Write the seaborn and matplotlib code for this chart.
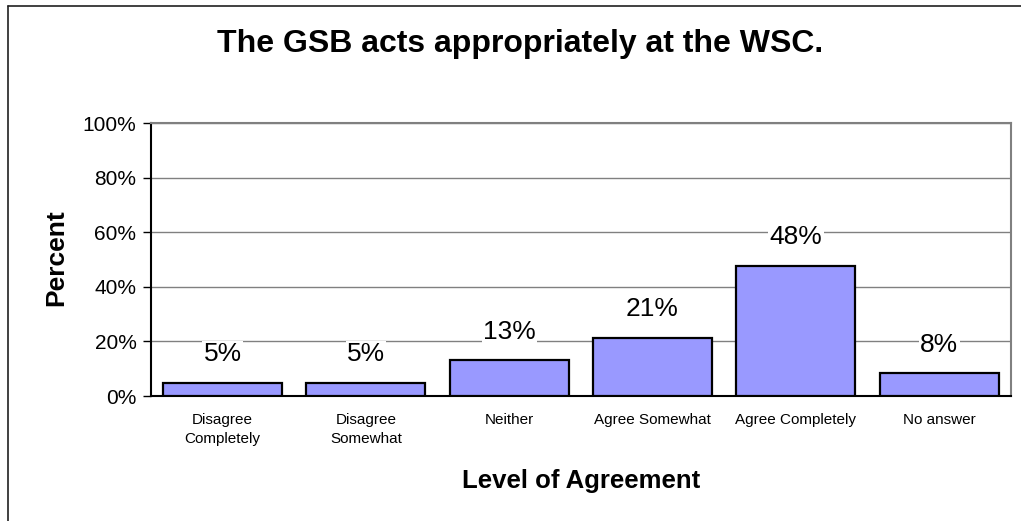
import matplotlib
matplotlib.use("Agg")
import matplotlib.pyplot as plt
from matplotlib.lines import Line2D
import seaborn as sns

# data
categories = ["Disagree\nCompletely", "Disagree\nSomewhat", "Neither",
              "Agree Somewhat", "Agree Completely", "No answer"]
percent = [4.8, 4.8, 13.1, 21.4, 47.6, 8.3]
value_labels = ["5%", "5%", "13%", "21%", "48%", "8%"]
y_ticks = [0, 20, 40, 60, 80, 100]

sns.set_style("white")
plt.rcParams["font.family"] = ["Liberation Sans", "DejaVu Sans"]
plt.rcParams["text.color"] = "black"
plt.rcParams["axes.labelcolor"] = "black"
plt.rcParams["xtick.color"] = "black"
plt.rcParams["ytick.color"] = "black"

fig = plt.figure(figsize=(10.21, 5.21), dpi=100)
ax = fig.add_axes([0.1479, 0.2399, 0.8421, 0.524])

sns.barplot(x=categories, y=percent, color="#9999FF", saturation=1,
            edgecolor="black", linewidth=1.6, width=0.83, ax=ax, zorder=3)

ax.set_ylim(0, 100)
ax.set_xlim(-0.5, len(categories) - 0.5)
ax.set_yticks(y_ticks)
ax.set_yticklabels([f"{t}%" for t in y_ticks], fontsize=15)
ax.yaxis.grid(True, color="#808080", linewidth=1)
ax.set_axisbelow(True)

# ticks between categories on x, outward ticks on y
ax.set_xticks(range(len(categories)))
ax.set_xticklabels(categories, fontsize=11, linespacing=1.45)
ax.set_xticks([i + 0.5 for i in range(-1, len(categories))], minor=True)
ax.tick_params(axis="x", which="major", length=0, pad=12)
ax.tick_params(axis="x", which="minor", length=5, width=1, color="#606060")
ax.tick_params(axis="y", length=6, width=1, color="black", pad=4.5, left=True)

for side in ["top", "right"]:
    ax.spines[side].set_color("#808080")
    ax.spines[side].set_linewidth(1.5)
for side in ["left", "bottom"]:
    ax.spines[side].set_color("black")
    ax.spines[side].set_linewidth(1.5)

ax.bar_label(ax.containers[0], labels=value_labels, padding=12, fontsize=19,
             bbox=dict(facecolor="white", edgecolor="none", pad=1), zorder=4)

ax.set_xlabel("Level of Agreement", fontsize=18.5, fontweight="bold")
ax.xaxis.label.set_va("baseline")
ax.xaxis.set_label_coords(0.5, -0.337)
ax.set_ylabel("Percent", fontsize=19, fontweight="bold")
ax.yaxis.label.set_va("baseline")
ax.yaxis.set_label_coords(-0.1023, 0.507)

fig.text(0.509, 0.9002, "The GSB acts appropriately at the WSC.",
         fontsize=23, fontweight="bold", ha="center", va="baseline")

# chart area border (only top and left edges fall inside the image)
fig.add_artist(Line2D([0.0078, 1], [0.9885, 0.9885], color="#202020", linewidth=1.2,
                      transform=fig.transFigure))
fig.add_artist(Line2D([0.0078, 0.0078], [0, 0.9885], color="#202020", linewidth=1.2,
                      transform=fig.transFigure))

fig.savefig("out.png", dpi=100)
